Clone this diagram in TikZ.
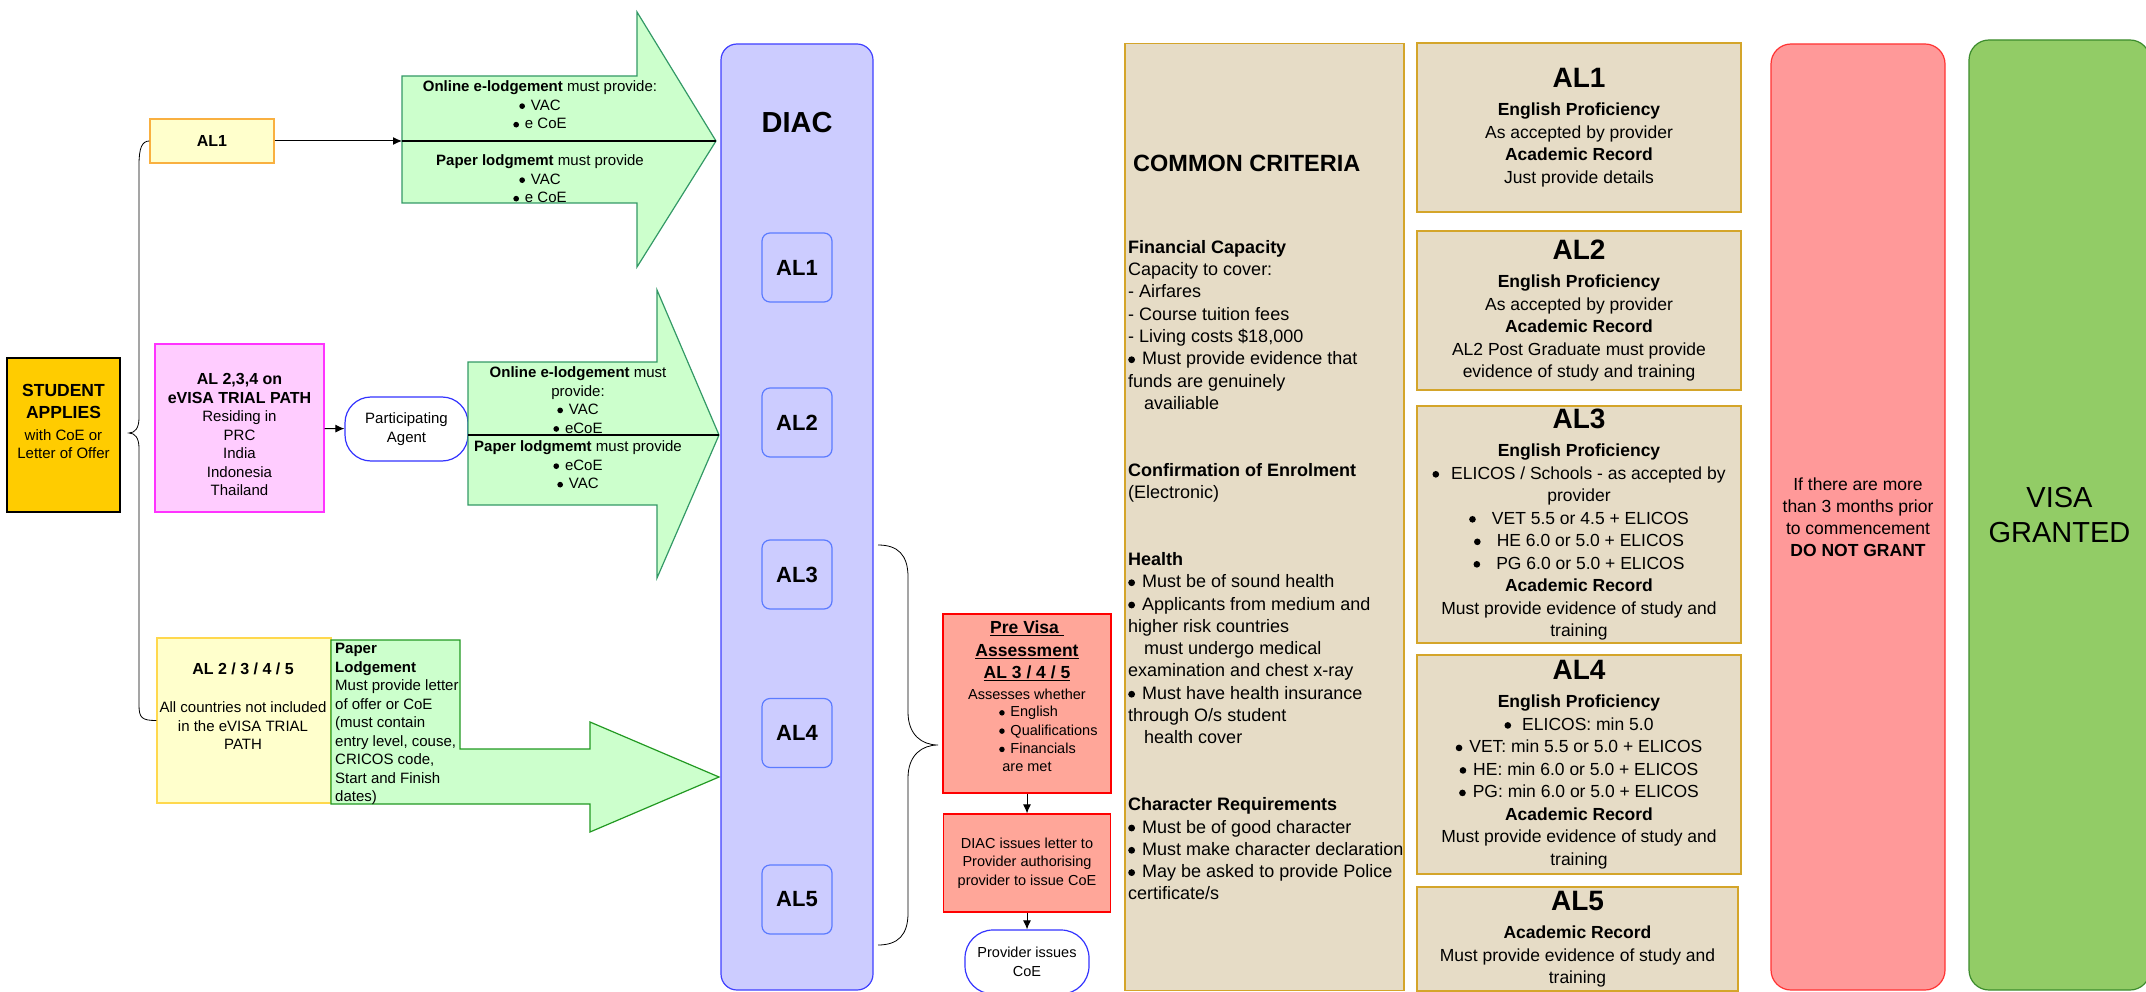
\documentclass[tikz,border=0pt]{standalone}
\usepackage{fontspec}
\setmainfont{Liberation Sans}
\usepackage{xcolor}
\usepackage{tikz}
\usetikzlibrary{arrows.meta,positioning}

\definecolor{stugold}{HTML}{FFCC00}
\definecolor{paleyel}{HTML}{FFFFCC}
\definecolor{alorange}{HTML}{F9B040}
\definecolor{yelline}{HTML}{FFD84D}
\definecolor{pinkfill}{HTML}{FFCCFF}
\definecolor{pinkline}{HTML}{FF33FF}
\definecolor{lodgefill}{HTML}{CCFFCC}
\definecolor{lodgeline}{HTML}{339966}
\definecolor{lodgedark}{HTML}{229922}
\definecolor{agentblue}{HTML}{3333FF}
\definecolor{diacfill}{HTML}{CCCCFF}
\definecolor{diacline}{HTML}{4040FF}
\definecolor{albox}{HTML}{5B7BFF}
\definecolor{prefill}{HTML}{FFA699}
\definecolor{critfill}{HTML}{E6DCC6}
\definecolor{critline}{HTML}{D4A52A}
\definecolor{nogrant}{HTML}{FF9999}
\definecolor{granted}{HTML}{92CC66}
\definecolor{grantline}{HTML}{3C8C2C}

\newcommand{\fsz}[2]{\fontsize{#1}{#2}\selectfont}
% round bullet, drawn
\newcommand{\bul}{\tikz[baseline=0pt]\fill (0pt,0.28em) circle[radius=0.19em];\hspace{0.12em}}

\begin{document}
\begin{tikzpicture}[x=1pt,y=-1pt,
    box/.style={draw, rectangle, inner sep=0pt, align=center, line width=1.2pt},
    txt/.style={inner sep=0pt, align=center, font=\fsz{15}{18.5}},
    link/.style={-{Latex[length=9pt,width=8pt]}, line width=1pt},
    lodge/.style={fill=lodgefill, draw=lodgeline, line width=1.2pt},
    critbox/.style={box, fill=critfill, draw=critline, font=\fsz{17.5}{22.5}}]
    \useasboundingbox (0,0) rectangle (2146,992);

    % Student applies
    \node[box, fill=stugold, draw=black, minimum width=113pt, minimum height=154pt] (student) at (63.5,435) {};
    \node[txt] (studenttxt) at (63.5,421.5) {{\fsz{17.5}{23}\bfseries STUDENT}\\[3.5pt] {\fsz{17.5}{23}\bfseries APPLIES}\\[3.5pt] with CoE or\\ Letter of Offer};

    % AL1 path
    \node[box, fill=paleyel, draw=alorange, minimum width=124pt, minimum height=44pt, font=\fsz{16}{19}\bfseries] (al1) at (212,141) {AL1};
    \coordinate (ar1in) at (402,141);
    \filldraw[lodge] (402,76) -- (637,76) -- (637,12) -- (716,141) -- (637,267) -- (637,203) -- (402,203) -- cycle;
    \draw[line width=2.6pt] (402,141) -- (716,141);
    \node[txt] (onl1) at (540,105) {\textbf{Online e-lodgement} must provide:\\ \bul{} VAC\\ \bul{} e CoE};
    \node[txt] (pap1) at (540,179) {\textbf{Paper lodgmemt} must provide\\ \bul{} VAC\\ \bul{} e CoE};
    \draw[link] (al1) -- (ar1in);

    % eVISA trial path
    \node[box, fill=pinkfill, draw=pinkline, minimum width=169pt, minimum height=168pt] (trial) at (239.5,428) {};
    \node[txt] (trialtxt) at (239.5,434.5) {{\fsz{16}{20}\bfseries AL 2,3,4 on}\\ {\fsz{16}{20}\bfseries eVISA TRIAL PATH}\\ Residing in\\ PRC\\ India\\ Indonesia\\ Thailand};
    \node[box, rounded corners=26pt, fill=white, draw=agentblue, minimum width=123pt, minimum height=64pt, font=\fsz{15}{18.5}] (agent) at (406.5,429) {Participating\\ Agent};
    \draw[link] (trial) -- (agent);
    \filldraw[lodge] (468,362) -- (657,362) -- (657,290) -- (719,435) -- (657,578) -- (657,505) -- (468,505) -- cycle;
    \draw[line width=2.6pt] (468,435) -- (719,435);
    \node[txt] (onl2) at (578,400) {\textbf{Online e-lodgement} must\\ provide:\\ \bul{} VAC\\ \bul{} eCoE};
    \node[txt] (pap2) at (578,465) {\textbf{Paper lodgmemt} must provide\\ \bul{} eCoE\\ \bul{} VAC};

    % other countries
    \node[box, fill=paleyel, draw=yelline, minimum width=174pt, minimum height=165pt] (other) at (244,720.5) {};
    \node[txt] (othertxt) at (243,706) {{\fsz{16}{20}\bfseries AL 2 / 3 / 4 / 5}\\[20pt] All countries not included\\ in the eVISA TRIAL\\ PATH};
    \filldraw[lodge, draw=lodgedark] (331,640) -- (460,640) -- (460,749) -- (590,749) -- (590,722) -- (719,777) -- (590,832) -- (590,804) -- (331,804) -- cycle;
    \node[txt, align=left, anchor=north west] (papertxt) at (335,643) {\textbf{Paper}\\ \textbf{Lodgement}\\ Must provide letter\\ of offer or CoE\\ (must contain\\ entry level, couse,\\ CRICOS code,\\ Start and Finish\\ dates)};

    % brace
    \draw[line width=0.8pt] (al1.west) .. controls (142,141) and (139,148) .. (139,165) -- (139,418) .. controls (139,428) and (135,433) .. (129,433) .. controls (135,433) and (139,438) .. (139,448) -- (139,705) .. controls (139,718) and (142,720.5) .. (other.west);

    % DIAC
    \node[box, rounded corners=16pt, fill=diacfill, draw=diacline, minimum width=152pt, minimum height=946pt] (diac) at (797,517) {};
    \node[font=\fsz{29}{34}\bfseries] (diactitle) at (797,123) {DIAC};
    \foreach \n/\y in {1/267.5, 2/422.5, 3/574.5, 4/733, 5/899.5}
        \node[box, rounded corners=8pt, fill=diacfill, draw=albox, minimum width=70pt, minimum height=69pt, font=\fsz{22}{26}\bfseries] (dal\n) at (797,\y) {AL\n};
    \draw[line width=0.8pt] (878,545) .. controls (898,545) and (908,555) .. (908,577) -- (908,712) .. controls (908,735) and (922,745) .. (938,745) .. controls (922,745) and (908,755) .. (908,778) -- (908,913) .. controls (908,935) and (898,945) .. (878,945);

    % pre visa assessment
    \node[box, fill=prefill, draw=red, minimum width=168pt, minimum height=179pt] (previsa) at (1027,703.5) {};
    \node[txt, font=\fsz{17.5}{22.5}\bfseries] (pvtitle) at (1027,651) {\underline{Pre Visa\ }\\ \underline{Assessment}\\ \underline{AL 3 / 4 / 5}};
    \node[txt, font=\fsz{14.5}{18.3}] (pvwhat) at (1027,694) {Assesses whether};
    \node[txt, font=\fsz{14.5}{18.3}, align=left, anchor=west] (pvlist) at (999,730) {\bul{} English\\ \bul{} Qualifications\\ \bul{} Financials};
    \node[txt, font=\fsz{14.5}{18.3}] (pvmet) at (1027,767) {are met};
    \node[box, fill=prefill, draw=red, minimum width=167pt, minimum height=98pt, font=\fsz{14.5}{18.5}] (issue) at (1027,863) {DIAC issues letter to\\ Provider authorising\\ provider to issue CoE};
    \node[box, rounded corners=28pt, fill=white, draw=agentblue, minimum width=124pt, minimum height=64pt, font=\fsz{14.5}{18.5}] (provider) at (1027,962) {Provider issues\\ CoE};
    \draw[link] (previsa) -- (issue);
    \draw[link] (issue) -- (provider);

    % common criteria
    \node[box, fill=critfill, draw=critline, minimum width=279pt, minimum height=947pt] (common) at (1264.5,517) {};
    \node[anchor=west, inner sep=0pt, font=\fsz{23.5}{28}\bfseries] (commontitle) at (1133,163) {COMMON CRITERIA};
    \node[anchor=north west, inner sep=0pt, align=left, font=\fsz{18}{22.3}] (commontxt) at (1128,240) {\textbf{Financial Capacity}\\ Capacity to cover:\\ - Airfares\\ - Course tuition fees\\ - Living costs \$18,000\\ \bul{} Must provide evidence that\\ funds are genuinely\\ \hspace*{16pt}availiable\\[44.6pt]
        \textbf{Confirmation of Enrolment}\\ (Electronic)\\[44.6pt]
        \textbf{Health}\\ \bul{} Must be of sound health\\ \bul{} Applicants from medium and\\ higher risk countries\\ \hspace*{16pt}must undergo medical\\ examination and chest x-ray\\ \bul{} Must have health insurance\\ through O/s student\\ \hspace*{16pt}health cover\\[44.6pt]
        \textbf{Character Requirements}\\ \bul{} Must be of good character\\ \bul{} Must make character declaration\\ \bul{} May be asked to provide Police\\ certificate/s};

    % levels
    \node[critbox, minimum width=324pt, minimum height=169pt] (crit1) at (1579,127.5) {{\fsz{28}{32}\bfseries AL1}\\[6pt] \textbf{English Proficiency}\\ As accepted by provider\\ \textbf{Academic Record}\\ Just provide details};
    \node[critbox, minimum width=324pt, minimum height=159pt] (crit2) at (1579,310.5) {{\fsz{28}{32}\bfseries AL2}\\[6pt] \textbf{English Proficiency}\\ As accepted by provider\\ \textbf{Academic Record}\\ AL2 Post Graduate must provide\\ evidence of study and training};
    \node[critbox, minimum width=324pt, minimum height=237pt] (crit3) at (1579,524.5) {{\fsz{28}{32}\bfseries AL3}\\[6pt] \textbf{English Proficiency}\\ \bul\hspace{10pt}ELICOS / Schools - as accepted by\\ provider\\ \bul\hspace{14pt}VET 5.5 or 4.5 + ELICOS\\ \bul\hspace{14pt}HE 6.0 or 5.0 + ELICOS\\ \bul\hspace{14pt}PG 6.0 or 5.0 + ELICOS\\ \textbf{Academic Record}\\ Must provide evidence of study and\\ training};
    \node[critbox, minimum width=324pt, minimum height=219pt] (crit4) at (1579,764.5) {{\fsz{28}{32}\bfseries AL4}\\[6pt] \textbf{English Proficiency}\\ \bul\hspace{9pt}ELICOS: min 5.0\\ \bul{} VET: min 5.5 or 5.0 + ELICOS\\ \bul{} HE: min 6.0 or 5.0 + ELICOS\\ \bul{} PG: min 6.0 or 5.0 + ELICOS\\ \textbf{Academic Record}\\ Must provide evidence of study and\\ training};
    \node[critbox, minimum width=321pt, minimum height=104pt] (crit5) at (1577.5,939) {{\fsz{28}{32}\bfseries AL5}\\[6pt] \textbf{Academic Record}\\ Must provide evidence of study and\\ training};

    % outcome
    \node[box, rounded corners=20pt, fill=nogrant, draw=red!80, minimum width=174pt, minimum height=946pt, font=\fsz{17.5}{22}] (nogrant) at (1858,517) {If there are more\\ than 3 months prior\\ to commencement\\ \textbf{DO NOT GRANT}};
    \node[box, rounded corners=20pt, fill=granted, draw=grantline, minimum width=181pt, minimum height=950pt, font=\fsz{29}{35}] (grant) at (2059.5,515) {VISA\\ GRANTED};
\end{tikzpicture}
\end{document}
